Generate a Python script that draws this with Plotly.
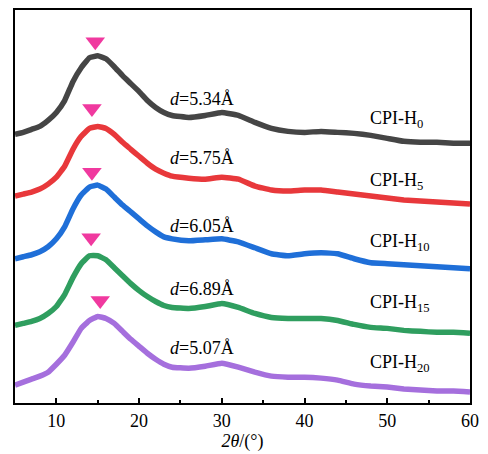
import plotly.graph_objects as go

two_theta = [5, 6, 7, 8, 9, 10, 11, 12, 13, 14, 15, 16, 17, 18, 19, 20, 21, 22, 23, 24,
             26, 28, 30, 32, 34, 36, 38, 40, 42, 44, 46, 48, 50, 52, 54, 56, 58, 60]

# Offset (stacked) intensities, arbitrary units
h0 = [270, 272, 275, 278, 284, 292, 304, 323, 337, 347, 349, 346, 338, 329, 321, 313, 304, 297, 292, 289,
      287, 289, 292, 289, 282, 276, 273, 272, 273, 272, 271, 269, 266, 263, 262, 262, 261, 261]
h5 = [208, 210, 212, 215, 220, 227, 238, 255, 268, 276, 278, 276, 270, 262, 255, 248, 241, 235, 231, 228,
      226, 225, 227, 225, 218, 214, 213, 214, 214, 212, 210, 208, 206, 204, 203, 202, 201, 200]
h10 = [145, 147, 149, 152, 157, 165, 177, 195, 209, 217, 219, 215, 207, 199, 192, 185, 178, 172, 167, 165,
       163, 164, 165, 162, 156, 150, 148, 150, 151, 150, 145, 141, 140, 139, 138, 137, 136, 135]
h15 = [78, 80, 82, 85, 90, 97, 109, 126, 140, 148, 148, 144, 136, 128, 120, 113, 107, 102, 98, 96,
       95, 97, 100, 96, 90, 86, 85, 85, 85, 83, 79, 76, 75, 73, 72, 71, 71, 70]
h20 = [18, 21, 24, 27, 31, 39, 48, 61, 75, 83, 87, 85, 80, 72, 64, 57, 50, 44, 39, 36,
       35, 37, 40, 36, 31, 27, 26, 26, 25, 23, 19, 17, 16, 14, 13, 12, 12, 11]

series_names = ["CPI-H<sub>0</sub>", "CPI-H<sub>5</sub>", "CPI-H<sub>10</sub>",
                "CPI-H<sub>15</sub>", "CPI-H<sub>20</sub>"]
series_colors = ["#454545", "#e8383b", "#1f6fd8", "#2f9e5f", "#a56fdd"]
d_labels = ["5.34", "5.75", "6.05", "6.89", "5.07"]

peak_x = [14.7, 14.3, 14.3, 14.2, 15.3]
peak_y = [363, 296, 232, 166, 103]

d_label_y = [306, 246, 178, 115, 55]
name_label_y = [285, 223, 161, 100, 40]

all_series = [h0, h5, h10, h15, h20]

FONT = "Times New Roman, Liberation Serif, serif"

fig = go.Figure()
for ys, col, nm in zip(all_series, series_colors, series_names):
    fig.add_trace(go.Scatter(x=two_theta, y=ys, mode="lines",
                             line=dict(color=col, width=5.5, shape="spline", smoothing=0.3),
                             name=nm, showlegend=False))

fig.add_trace(go.Scatter(x=peak_x, y=peak_y, mode="markers",
                         marker=dict(symbol="triangle-down", size=17, color="#f0399f",
                                     line=dict(width=0)),
                         showlegend=False))

for lab, yy in zip(d_labels, d_label_y):
    fig.add_annotation(x=23.5, y=yy, xref="x", yref="y", text=f"<i>d</i>={lab}Å",
                       xanchor="left", showarrow=False,
                       font=dict(family=FONT, size=18, color="black"))
for nm, yy in zip(series_names, name_label_y):
    fig.add_annotation(x=47.7, y=yy, xref="x", yref="y", text=nm, xanchor="left",
                       showarrow=False, font=dict(family=FONT, size=18, color="black"))

fig.update_layout(
    width=488, height=454,
    margin=dict(l=15, r=18, t=8, b=51),
    paper_bgcolor="white", plot_bgcolor="white",
    font=dict(family=FONT, size=18, color="black"),
)
fig.update_xaxes(range=[5, 60], tick0=0, dtick=10, ticks="inside", ticklen=5, tickwidth=2,
                 tickcolor="black", showline=True, linecolor="black", linewidth=2, mirror=True,
                 showgrid=False, zeroline=False,
                 minor=dict(dtick=5, tick0=0, ticks="inside", ticklen=3, tickwidth=2, tickcolor="black"),
                 tickfont=dict(family=FONT, size=18),
                 title=dict(text="<i>2θ</i>/(°)", font=dict(family=FONT, size=18), standoff=2))
fig.update_yaxes(range=[0, 395], showticklabels=False, ticks="", showline=True, linecolor="black",
                 linewidth=2, mirror=True, showgrid=False, zeroline=False)

fig.write_html("out.html")
